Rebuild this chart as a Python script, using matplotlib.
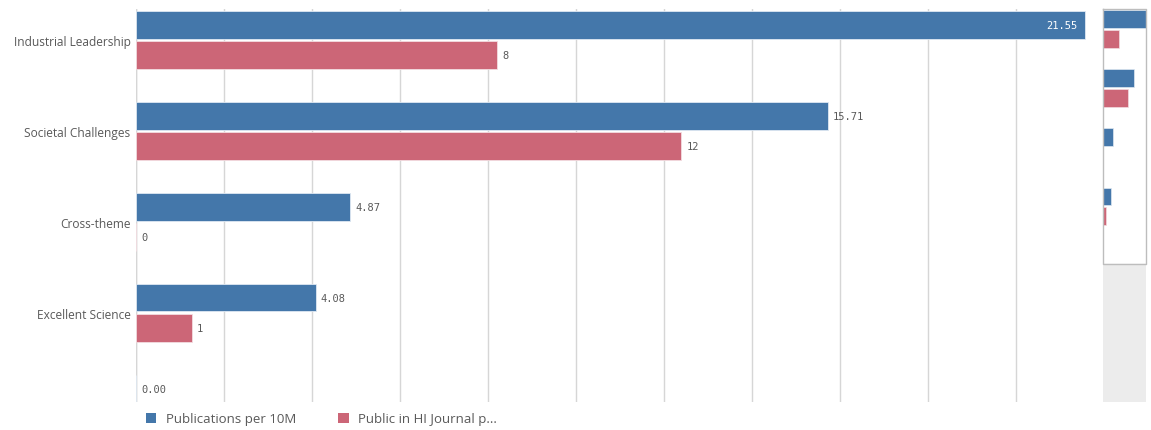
import matplotlib.pyplot as plt
from matplotlib.patches import Patch

categories = ['Industrial Leadership', 'Societal Challenges', 'Cross-theme', 'Excellent Science', '']
publications = [21.55, 15.71, 4.87, 4.08, 0.0]
# second measure is shown rounded to whole numbers; bar lengths
hi_journal = [8.2, 12.39, 0.0, 1.27]
pub_labels = ['21.55', '15.71', '4.87', '4.08', '0.00']
hi_labels = ['8', '12', '0', '1']
legend_labels = ['Publications per 10M', 'Public in HI Journal p...']

BLUE = '#4477aa'
RED = '#cc6677'
GRID = '#d6d6d6'
TXT = '#595959'

W, H = 1151, 431
fig = plt.figure(figsize=(W / 100, H / 100), dpi=100)

def px_axes(x0, y0, x1, y1):
    return fig.add_axes([x0 / W, 1 - y1 / H, (x1 - x0) / W, (y1 - y0) / H])

ax = px_axes(136, 10, 1100, 403)

pos = list(range(len(categories)))
off, bh = 0.165, 0.30
blue_y = [p - off for p in pos]
red_y = [p + off for p in pos[:len(hi_journal)]]

ax.barh(blue_y, publications, height=bh, color=BLUE, edgecolor='#dfe8f2', linewidth=0.6, zorder=3)
ax.barh(red_y, hi_journal, height=bh, color=RED, edgecolor='#f3dde1', linewidth=0.6, zorder=3)

ax.set_xlim(0, 21.9)
ax.set_ylim(3.98, -0.34)

ax.set_xticks(range(0, 21, 2))
ax.xaxis.grid(True, color=GRID, linewidth=1)
ax.set_axisbelow(True)
ax.tick_params(axis='x', length=0, labelbottom=False)
ax.set_yticks(pos[:4])
ax.set_yticklabels(categories[:4], fontsize=8.6, color=TXT, family='Open Sans')
ax.tick_params(axis='y', length=0, pad=4)
for s in ax.spines.values():
    s.set_visible(False)
ax.axvline(0, color=GRID, linewidth=1, zorder=2)

vfont = dict(fontsize=7.5, family='DejaVu Sans Mono', va='center')
for y, v, lab in zip(blue_y, publications, pub_labels):
    if v > 20:
        ax.text(v - 0.15, y, lab, ha='right', color='white', **vfont)
    else:
        ax.text(v + 0.12, y, lab, ha='left', color=TXT, **vfont)
for y, v, lab in zip(red_y, hi_journal, hi_labels):
    ax.text(v + 0.12, y, lab, ha='left', color=TXT, **vfont)

# mini scroll chart
mini = px_axes(1103, 10, 1146, 403)
mini.axhspan(3.98, 6.32, color='#ececec', zorder=0)
mini.barh(blue_y, publications, height=bh, color=BLUE, edgecolor='#dfe8f2', linewidth=0.5, zorder=3)
mini.barh(red_y, hi_journal, height=bh, color=RED, edgecolor='#f3dde1', linewidth=0.5, zorder=3)
mini.set_xlim(0, 21.55)
mini.set_ylim(6.32, -0.34)
mini.set_xticks([])
mini.set_yticks([])
for s in mini.spines.values():
    s.set_visible(False)
mini.plot([0, 0, 21.55, 21.55, 0], [-0.34, 3.98, 3.98, -0.34, -0.34], color='#bdbdbd',
          linewidth=1, clip_on=False, zorder=4)

handles = [Patch(facecolor=BLUE), Patch(facecolor=RED)]
fig.legend(handles, legend_labels, loc='center left', bbox_to_anchor=(134 / W, 1 - 420 / H),
           ncol=2, frameon=False, handlelength=0.8, handleheight=0.8, handletextpad=0.7,
           columnspacing=3.2, prop={'family': 'Open Sans', 'size': 9.5}, labelcolor=TXT)

fig.savefig('out.png', dpi=100)
